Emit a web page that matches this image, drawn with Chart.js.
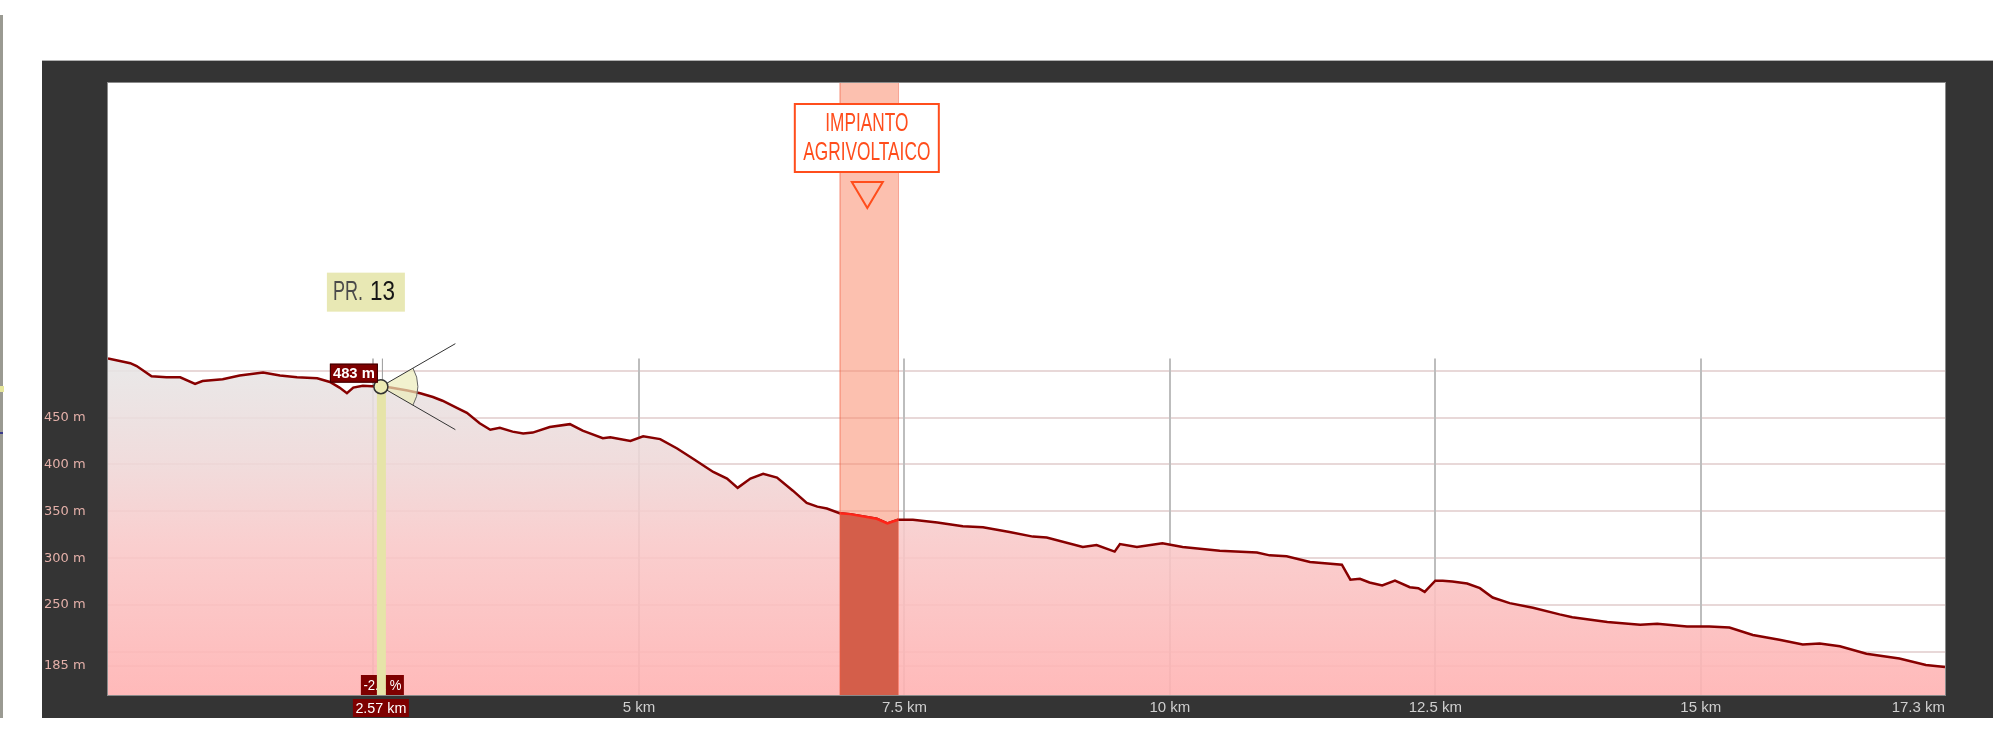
<!DOCTYPE html>
<html lang="it">
<head>
    <meta charset="UTF-8">
    <title>Profilo altimetrico</title>
    <script src="https://cdn.jsdelivr.net/npm/chart.js"></script>
    <style>
        html, body { margin: 0; padding: 0; background: #fff; }
        canvas { display: block; }
    </style>
</head>
<body>
    <canvas id="profile" width="1993" height="746"></canvas>

    <script>
        // profile: distance (km) / elevation (m)
        const distanceKm = [0, 0.21, 0.27, 0.41, 0.55, 0.68, 0.82, 0.89, 1.08, 1.24,
            1.46, 1.62, 1.78, 1.97, 2.09, 2.18, 2.25, 2.31, 2.40, 2.57,
            2.66, 2.82, 2.94, 3.06, 3.15, 3.29, 3.38, 3.50, 3.60, 3.69,
            3.81, 3.91, 4.00, 4.16, 4.35, 4.47, 4.52, 4.66, 4.73, 4.92,
            5.04, 5.20, 5.36, 5.51, 5.70, 5.83, 5.93, 6.05, 6.17, 6.30,
            6.45, 6.58, 6.68, 6.77, 6.89, 6.99, 7.24, 7.34, 7.44, 7.58,
            7.81, 8.05, 8.24, 8.49, 8.71, 8.84, 9.18, 9.31, 9.48, 9.53,
            9.69, 9.93, 10.12, 10.47, 10.82, 10.94, 11.10, 11.32, 11.62, 11.70,
            11.79, 11.88, 12.00, 12.12, 12.26, 12.34, 12.40, 12.50, 12.57, 12.66,
            12.80, 12.92, 13.04, 13.20, 13.42, 13.67, 13.79, 14.12, 14.43, 14.59,
            14.87, 15.08, 15.27, 15.49, 15.74, 15.96, 16.12, 16.31, 16.56, 16.87,
            17.12, 17.30];
        const elevationM = [513, 508, 505, 494, 493, 493, 486, 489, 491, 495,
            498, 495, 493, 492, 488, 482, 476, 482, 484, 483,
            482, 479, 476, 472, 468, 460, 455, 444, 437, 439,
            435, 433, 434, 440, 443, 436, 434, 428, 429, 425,
            430, 427, 417, 406, 392, 385, 375, 385, 390, 386,
            372, 359, 355, 353, 348, 347, 342, 337, 341, 341,
            338, 334, 333, 328, 323, 322, 312, 314, 307, 315,
            312, 316, 312, 308, 306, 303, 302, 296, 293, 277,
            278, 274, 271, 276, 269, 268, 264, 276, 276, 275,
            273, 268, 258, 252, 247, 240, 237, 232, 229, 230,
            227, 227, 226, 218, 213, 208, 209, 206, 198, 193,
            186, 184];

        const xTickValues = [2.5, 5, 7.5, 10, 12.5, 15, 17.3];
        const yTickValues = [185, 200, 250, 300, 350, 400, 450, 500];
        const yLabelled = [185, 250, 300, 350, 400, 450];

        // highlighted stretch (agrivoltaic plant) and the marked point
        const bandStartKm = 6.89;
        const bandEndKm = 7.44;
        const bandLabel = ['IMPIANTO', 'AGRIVOLTAICO'];
        const markerKm = 2.57;
        const markerSlope = '-2.1 %';
        const markerName = ['PR.', '13'];

        const profile = distanceKm.map((d, i) => ({ x: d, y: elevationM[i] }));
        const bandPoints = profile.filter(p => p.x >= bandStartKm && p.x <= bandEndKm);
        const markerElev = elevationM[distanceKm.indexOf(markerKm)];
        const maxElev = Math.max(...elevationM);

        function squeezeText(ctx, text, x, y, width) {
            const w = ctx.measureText(text).width;
            ctx.save();
            ctx.translate(x, y);
            ctx.scale(width / w, 1);
            ctx.fillText(text, 0, 0);
            ctx.restore();
        }

        function profileFill(context) {
            const chart = context.chart;
            const a = chart.chartArea;
            if (!a) return 'rgba(240,200,200,0.9)';
            const top = chart.scales.y.getPixelForValue(maxElev);
            const g = chart.ctx.createLinearGradient(0, top, 0, a.bottom);
            g.addColorStop(0, 'rgba(230,230,230,0.88)');
            g.addColorStop(0.3, 'rgba(238,216,216,0.88)');
            g.addColorStop(0.55, 'rgba(249,200,200,0.88)');
            g.addColorStop(1, 'rgba(255,178,178,0.9)');
            return g;
        }

        const framePlugin = {
            id: 'frame',
            beforeDraw(chart) {
                const { ctx, chartArea: a } = chart;
                ctx.save();
                ctx.fillStyle = '#ffffff';
                ctx.fillRect(0, 0, chart.width, chart.height);
                // stray strip at the far left edge
                ctx.fillStyle = '#9a9a92';
                ctx.fillRect(0, 15, 3, 703);
                ctx.fillStyle = '#e6e69c';
                ctx.fillRect(0, 386, 4, 6);
                ctx.fillStyle = '#3a3a8a';
                ctx.fillRect(0, 432, 3, 2);
                // dark frame
                ctx.fillStyle = '#343434';
                ctx.fillRect(a.left - 66, a.top - 23, chart.width - a.left + 66, a.bottom - a.top + 46);
                ctx.fillStyle = '#b0b0b0';
                ctx.fillRect(a.left - 66, a.top - 23, chart.width - a.left + 66, 1);
                ctx.fillStyle = '#ffffff';
                ctx.fillRect(a.left, a.top, a.right - a.left, a.bottom - a.top);
                ctx.strokeStyle = '#8a8a8a';
                ctx.lineWidth = 1;
                ctx.strokeRect(a.left - 0.5, a.top - 0.5, a.right - a.left + 1, a.bottom - a.top + 1);
                ctx.restore();
            },
            beforeDatasetsDraw(chart) {
                const { ctx, chartArea: a, scales: { x, y } } = chart;
                ctx.save();
                // light band over the highlighted stretch
                const b0 = x.getPixelForValue(bandStartKm);
                const b1 = x.getPixelForValue(bandEndKm);
                ctx.fillStyle = 'rgba(250,140,110,0.55)';
                ctx.fillRect(b0, a.top, b1 - b0, a.bottom - a.top);
                // vertical grid lines, from the highest point down
                const top = y.getPixelForValue(maxElev);
                ctx.strokeStyle = '#bdbdbd';
                ctx.lineWidth = 2;
                xTickValues.slice(0, -1).forEach(v => {
                    const px = Math.round(x.getPixelForValue(v));
                    ctx.beginPath();
                    ctx.moveTo(px, top);
                    ctx.lineTo(px, a.bottom);
                    ctx.stroke();
                });
                ctx.restore();
            },
            afterDatasetsDraw(chart) {
                const { ctx, chartArea: a, scales: { x, y } } = chart;
                ctx.save();

                // band edges and label
                const b0 = x.getPixelForValue(bandStartKm);
                const b1 = x.getPixelForValue(bandEndKm);
                const cx = (b0 + b1) / 2;
                ctx.strokeStyle = 'rgba(240,90,60,0.55)';
                ctx.lineWidth = 1;
                [b0, b1].forEach(px => {
                    ctx.beginPath();
                    ctx.moveTo(px + 0.5, a.top);
                    ctx.lineTo(px + 0.5, a.bottom);
                    ctx.stroke();
                });
                const orange = '#ff4d1c';
                ctx.fillStyle = '#ffffff';
                ctx.fillRect(cx - 74, a.top + 21, 144, 68);
                ctx.strokeStyle = orange;
                ctx.lineWidth = 2;
                ctx.strokeRect(cx - 74, a.top + 21, 144, 68);
                ctx.fillStyle = orange;
                ctx.font = '25px "Liberation Sans", Arial, sans-serif';
                ctx.textAlign = 'center';
                ctx.textBaseline = 'middle';
                squeezeText(ctx, bandLabel[0], cx - 2, a.top + 41, 83);
                squeezeText(ctx, bandLabel[1], cx - 2, a.top + 70, 127);
                ctx.beginPath();
                ctx.moveTo(cx - 17, a.top + 99);
                ctx.lineTo(cx + 14, a.top + 99);
                ctx.lineTo(cx - 1.5, a.top + 125);
                ctx.closePath();
                ctx.stroke();

                // marked point
                const mx = x.getPixelForValue(markerKm);
                const my = y.getPixelForValue(markerElev);
                const dark = '#7e0000';

                // slope label at the bottom, then the yellow bar over it
                ctx.fillStyle = dark;
                ctx.fillRect(mx - 20, a.bottom - 20, 43, 20);
                ctx.fillStyle = '#ffffff';
                ctx.font = '15px "Liberation Sans", Arial, sans-serif';
                squeezeText(ctx, markerSlope, mx + 1.5, a.bottom - 9.5, 38);

                ctx.fillStyle = '#e6e4a8';
                ctx.fillRect(mx - 4, my, 9, a.bottom - my);

                ctx.strokeStyle = '#9a9a9a';
                ctx.lineWidth = 1;
                ctx.beginPath();
                ctx.moveTo(mx + 1.5, y.getPixelForValue(maxElev));
                ctx.lineTo(mx + 1.5, my - 6);
                ctx.stroke();

                // viewing sector
                const ang = 30 * Math.PI / 180;
                ctx.fillStyle = 'rgba(236,236,186,0.7)';
                ctx.beginPath();
                ctx.moveTo(mx, my);
                ctx.arc(mx, my, 37, -ang, ang);
                ctx.closePath();
                ctx.fill();
                ctx.strokeStyle = '#666';
                ctx.beginPath();
                ctx.arc(mx, my, 37, -ang, ang);
                ctx.stroke();
                ctx.strokeStyle = '#333';
                ctx.beginPath();
                ctx.moveTo(mx, my);
                ctx.lineTo(mx + 86 * Math.cos(ang), my - 86 * Math.sin(ang));
                ctx.moveTo(mx, my);
                ctx.lineTo(mx + 86 * Math.cos(ang), my + 86 * Math.sin(ang));
                ctx.stroke();

                ctx.fillStyle = '#eceab4';
                ctx.strokeStyle = '#333';
                ctx.lineWidth = 1.5;
                ctx.beginPath();
                ctx.arc(mx, my, 7, 0, Math.PI * 2);
                ctx.fill();
                ctx.stroke();

                // elevation label
                ctx.fillStyle = dark;
                ctx.fillRect(mx - 51, my - 23, 48, 19);
                ctx.strokeStyle = '#3a0000';
                ctx.lineWidth = 1;
                ctx.strokeRect(mx - 50.5, my - 22.5, 47, 18);
                ctx.fillStyle = '#ffffff';
                ctx.font = 'bold 15px "Liberation Sans", Arial, sans-serif';
                squeezeText(ctx, markerElev + ' m', mx - 27, my - 13, 42);

                // distance label below the axis
                ctx.fillStyle = dark;
                ctx.fillRect(mx - 28, a.bottom + 4, 56, 18);
                ctx.fillStyle = '#ffffff';
                ctx.font = '15px "Liberation Sans", Arial, sans-serif';
                squeezeText(ctx, markerKm + ' km', mx, a.bottom + 13.5, 51);

                // name tag
                ctx.fillStyle = '#e8e8b4';
                ctx.fillRect(mx - 54, my - 114, 78, 39);
                ctx.textAlign = 'left';
                ctx.textBaseline = 'alphabetic';
                ctx.font = '28px "Liberation Sans", Arial, sans-serif';
                ctx.fillStyle = '#4a4a4a';
                squeezeText(ctx, markerName[0], mx - 48, my - 87, 30);
                ctx.fillStyle = '#151515';
                ctx.strokeStyle = '#151515';
                ctx.lineWidth = 0.6;
                squeezeText(ctx, markerName[1], mx - 11, my - 87, 25);

                ctx.restore();
            }
        };

        const ctx = document.getElementById('profile').getContext('2d');
        new Chart(ctx, {
            type: 'line',
            data: {
                datasets: [
                    {
                        label: 'Impianto agrivoltaico',
                        data: bandPoints,
                        borderColor: '#ff2418',
                        borderWidth: 2.5,
                        backgroundColor: 'rgb(212,94,74)',
                        fill: 'start',
                        pointRadius: 0,
                        tension: 0
                    },
                    {
                        label: 'Quota',
                        data: profile,
                        borderColor: '#870000',
                        borderWidth: 2.5,
                        backgroundColor: profileFill,
                        fill: 'start',
                        pointRadius: 0,
                        tension: 0
                    }
                ]
            },
            options: {
                responsive: false,
                animation: false,
                events: [],
                layout: { padding: { top: 83, right: 48, left: 44, bottom: 0 } },
                plugins: {
                    legend: { display: false },
                    tooltip: { enabled: false }
                },
                scales: {
                    x: {
                        type: 'linear',
                        min: 0,
                        max: 17.3,
                        grid: { display: false },
                        border: { display: false },
                        afterBuildTicks: scale => {
                            scale.ticks = xTickValues.map(v => ({ value: v }));
                        },
                        afterFit: scale => { scale.height = 51; },
                        ticks: {
                            align: 'inner',
                            padding: -4,
                            maxRotation: 0,
                            autoSkip: false,
                            color: '#cfcfcf',
                            font: { family: '"Liberation Sans", Arial, sans-serif', size: 15 },
                            callback: v => (v === 2.5 ? '' : v + ' km')
                        }
                    },
                    y: {
                        type: 'linear',
                        min: 154,
                        max: 807,
                        grid: { color: '#e8d8d8', lineWidth: 2, drawTicks: false },
                        border: { display: false },
                        afterBuildTicks: scale => {
                            scale.ticks = yTickValues.map(v => ({ value: v }));
                        },
                        afterFit: scale => { scale.width = 64; },
                        ticks: {
                            crossAlign: 'far',
                            autoSkip: false,
                            color: '#e4b0a9',
                            font: { family: '"DejaVu Sans", sans-serif', size: 13 },
                            callback: v => (yLabelled.includes(v) ? v + ' m' : '')
                        }
                    }
                }
            },
            plugins: [framePlugin]
        });
    </script>
</body>
</html>
